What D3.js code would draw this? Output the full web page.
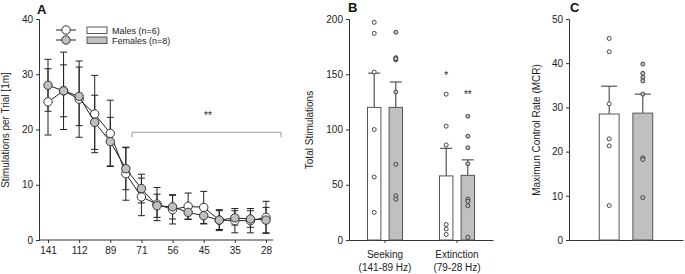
<!DOCTYPE html>
<html>
<head>
<meta charset="utf-8">
<script src="https://cdn.jsdelivr.net/npm/d3@7"></script>
<style>
  body { margin: 0; background: #fff; }
  svg { font-family: "Liberation Sans", Arial, sans-serif; }
  .axis path, .axis line { stroke: #333; }
  .axis text { font-size: 10px; fill: #222; }
</style>
</head>
<body>
<svg id="chart" width="685" height="274"></svg>
<script>
// Panel A: stimulations per trial by frequency step
let freqs = [141, 126, 112, 100, 89, 79, 71, 63, 56, 50, 45, 40, 35, 31, 28]
let freqTickLabels = ['141', '112', '89', '71', '56', '45', '35', '28']
let maleTrial = [25, 27, 25.5, 22.8, 19.3, 12, 7.8, 6.5, 5.5, 6.1, 5.9, 3.6, 3.5, 3.5, 4.1]
let maleTrialErr = [6, 7, 6.9, 7, 6, 4.8, 3.4, 3, 2.6, 2.4, 2.9, 1.9, 2.2, 2.2, 2.9]
let femaleTrial = [28, 27, 26, 21.3, 17.8, 12.9, 9.3, 6.2, 6, 5, 4.4, 3.6, 4, 3.8, 3.6]
let femaleTrialErr = [4.7, 4.7, 5.3, 4.9, 4.4, 3.8, 2.6, 2.1, 2.2, 1.2, 1.5, 1.7, 1.3, 1.5, 2.3]

// Panel B: total stimulations
let phases = ['Seeking', 'Extinction']
let phaseSub = ['(141-89 Hz)', '(79-28 Hz)']
let maleTotal = [120, 58]
let maleTotalErr = [31, 25]
let femaleTotal = [120, 58.5]
let femaleTotalErr = [23, 14]
let maleTotalPts = [[197, 187, 152, 100, 57, 25], [132, 103, 86, 14, 10, 5]]
let femaleTotalPts = [[188, 165, 163, 164, 134, 68.5, 40, 37], [112, 94, 83.5, 69, 37, 35, 31, 2.4]]
let totalStars = ['', '*', '**']

// Panel C: maximum control rate
let groups = ['Males', 'Females']
let mcr = [28.5, 28.7]
let mcrErr = [6.3, 4.3]
let mcrPts = [[45.6, 42.6, 30.8, 22.9, 21.3, 7.8], [39.8, 37.7, 36.8, 36, 33, 18.6, 18.2, 9.6]]

let fills = ['#ffffff', '#c0c0c0']

let svg = d3.select('#chart')

// ---------- Panel A ----------
let xA = d3.scalePoint().domain(d3.range(freqs.length)).range([48, 266])
let yA = d3.scaleLinear().domain([0, 40]).range([240, 19])

svg.append('g').attr('class', 'axis')
    .attr('transform', 'translate(39,0)')
    .call(d3.axisLeft(yA).tickValues([0, 10, 20, 30, 40]).tickSize(3).tickPadding(3))
let axA = svg.append('g').attr('class', 'axis')
    .attr('transform', 'translate(0,240)')
    .call(d3.axisBottom(xA)
      .tickValues(d3.range(0, freqs.length, 2))
      .tickFormat((d, i) => freqTickLabels[i])
      .tickSize(3).tickPadding(4).tickSizeOuter(0))
axA.select('path').attr('d', 'M39,0H273')

svg.append('text')
    .attr('transform', 'translate(9,130) rotate(-90)')
    .attr('text-anchor', 'middle')
    .attr('font-size', 10).attr('fill', '#222')
    .text('Stimulations per Trial [1m]')

svg.append('text').attr('x', 37).attr('y', 14)
    .attr('font-size', 13).attr('font-weight', 'bold').attr('fill', '#111').text('A')

// significance bracket
let by = yA(19.5)
svg.append('path')
    .attr('d', `M${132},${by + 5}V${by}H${281}V${by + 5}`)
    .attr('fill', 'none').attr('stroke', '#999').attr('stroke-width', 1)
svg.append('text').attr('x', 208).attr('y', 119)
    .attr('text-anchor', 'middle').attr('font-size', 10).attr('fill', '#222').text('**')

let seriesA = [
  { vals: maleTrial, err: maleTrialErr, fill: fills[0] },
  { vals: femaleTrial, err: femaleTrialErr, fill: fills[1] }
]
let lineA = d3.line().x((d, i) => xA(i)).y(d => yA(d))

seriesA.forEach(s => {
  let g = svg.append('g')
  s.vals.forEach((v, i) => {
    let x = xA(i)
    g.append('path')
      .attr('d', `M${x},${yA(v - s.err[i])}V${yA(v + s.err[i])}M${x - 3.5},${yA(v + s.err[i])}H${x + 3.5}M${x - 3.5},${yA(v - s.err[i])}H${x + 3.5}`)
      .attr('stroke', '#222').attr('fill', 'none')
  })
})
seriesA.forEach(s => {
  svg.append('path').datum(s.vals)
    .attr('d', lineA).attr('fill', 'none').attr('stroke', '#222')
  svg.selectAll(null).data(s.vals).enter().append('circle')
    .attr('cx', (d, i) => xA(i)).attr('cy', d => yA(d)).attr('r', 4.2)
    .attr('fill', s.fill).attr('stroke', '#333')
})

// legend
groups.forEach((g, i) => {
  let ly = 30 + i * 10
  svg.append('line').attr('x1', 56).attr('x2', 76).attr('y1', ly).attr('y2', ly).attr('stroke', '#222')
  svg.append('circle').attr('cx', 66).attr('cy', ly).attr('r', 4.2)
    .attr('fill', fills[i]).attr('stroke', '#333')
  svg.append('rect').attr('x', 87).attr('y', ly - 3).attr('width', 20).attr('height', 6.5)
    .attr('fill', fills[i]).attr('stroke', '#555')
  svg.append('text').attr('x', 112).attr('y', ly + 3.5).attr('font-size', 9).attr('fill', '#222')
    .text(g + (i === 0 ? ' (n=6)' : ' (n=8)'))
})

// ---------- Panel B ----------
let xB = d3.scaleBand().domain(phases).range([349, 493])
let xBsub = d3.scaleBand().domain(groups).range([18.5, 53.5]).paddingInner(0.38)
let yB = d3.scaleLinear().domain([0, 200]).range([240, 19])

svg.append('g').attr('class', 'axis')
    .attr('transform', 'translate(349,0)')
    .call(d3.axisLeft(yB).tickValues([0, 50, 100, 150, 200]).tickSize(3).tickPadding(3))
let axB = svg.append('g').attr('class', 'axis')
    .attr('transform', 'translate(0,240)')
    .call(d3.axisBottom(xB).tickSize(3).tickSizeOuter(0).tickFormat(''))
axB.selectAll('.tick').each(function (d, i) {
  let t = d3.select(this).append('text').attr('fill', '#222').attr('text-anchor', 'middle')
  t.append('tspan').attr('x', 0).attr('y', 18).text(phases[i])
  t.append('tspan').attr('x', 0).attr('y', 31).text(phaseSub[i])
})

svg.append('text')
    .attr('transform', 'translate(313,130) rotate(-90)')
    .attr('text-anchor', 'middle').attr('font-size', 10).attr('fill', '#222')
    .text('Total Stimulations')
svg.append('text').attr('x', 348).attr('y', 12)
    .attr('font-size', 13).attr('font-weight', 'bold').attr('fill', '#111').text('B')

let seriesB = [
  { vals: maleTotal, err: maleTotalErr, pts: maleTotalPts },
  { vals: femaleTotal, err: femaleTotalErr, pts: femaleTotalPts }
]
seriesB.forEach((s, gi) => {
  phases.forEach((p, pi) => {
    let x0 = xB(p) + xBsub(groups[gi])
    let bw = xBsub.bandwidth()
    let cx = x0 + bw / 2
    let top = yB(s.vals[pi] + s.err[pi])
    svg.append('path')
      .attr('d', `M${cx},${yB(s.vals[pi])}V${top}M${cx - 6},${top}H${cx + 6}`)
      .attr('stroke', '#333').attr('fill', 'none')
    svg.append('rect').attr('x', x0).attr('y', yB(s.vals[pi]))
      .attr('width', bw).attr('height', yB(0) - yB(s.vals[pi]))
      .attr('fill', fills[gi]).attr('stroke', '#555')
    svg.selectAll(null).data(s.pts[pi]).enter().append('circle')
      .attr('cx', cx).attr('cy', d => yB(d)).attr('r', 2)
      .attr('fill', fills[gi]).attr('stroke', '#333').attr('stroke-width', 0.9)
  })
})
svg.append('text').attr('x', xB('Extinction') + xBsub('Males') + xBsub.bandwidth() / 2)
    .attr('y', 79).attr('text-anchor', 'middle').attr('font-size', 10).attr('fill', '#222').text(totalStars[1])
svg.append('text').attr('x', xB('Extinction') + xBsub('Females') + xBsub.bandwidth() / 2)
    .attr('y', 98).attr('text-anchor', 'middle').attr('font-size', 10).attr('fill', '#222').text(totalStars[2])

// ---------- Panel C ----------
let xC = d3.scaleBand().domain(groups).range([569, 683]).paddingInner(0.41).paddingOuter(0.9)
let yC = d3.scaleLinear().domain([0, 50]).range([240, 19])

svg.append('g').attr('class', 'axis')
    .attr('transform', 'translate(569,0)')
    .call(d3.axisLeft(yC).tickValues([0, 10, 20, 30, 40, 50]).tickSize(3).tickPadding(3))
svg.append('g').attr('class', 'axis')
    .attr('transform', 'translate(0,240)')
    .call(d3.axisBottom(xC).tickSize(0).tickSizeOuter(0).tickFormat(''))

svg.append('text')
    .attr('transform', 'translate(540,130) rotate(-90)')
    .attr('text-anchor', 'middle').attr('font-size', 10).attr('fill', '#222')
    .text('Maximun Control Rate (MCR)')
svg.append('text').attr('x', 570).attr('y', 12)
    .attr('font-size', 13).attr('font-weight', 'bold').attr('fill', '#111').text('C')

groups.forEach((g, gi) => {
  let x0 = xC(g)
  let bw = xC.bandwidth()
  let cx = x0 + bw / 2
  let top = yC(mcr[gi] + mcrErr[gi])
  svg.append('path')
    .attr('d', `M${cx},${yC(mcr[gi])}V${top}M${cx - 8},${top}H${cx + 8}`)
    .attr('stroke', '#333').attr('fill', 'none')
  svg.append('rect').attr('x', x0).attr('y', yC(mcr[gi]))
    .attr('width', bw).attr('height', yC(0) - yC(mcr[gi]))
    .attr('fill', fills[gi]).attr('stroke', '#555')
  svg.selectAll(null).data(mcrPts[gi]).enter().append('circle')
    .attr('cx', cx).attr('cy', d => yC(d)).attr('r', 2)
    .attr('fill', fills[gi]).attr('stroke', '#333').attr('stroke-width', 0.9)
})
</script>
</body>
</html>
